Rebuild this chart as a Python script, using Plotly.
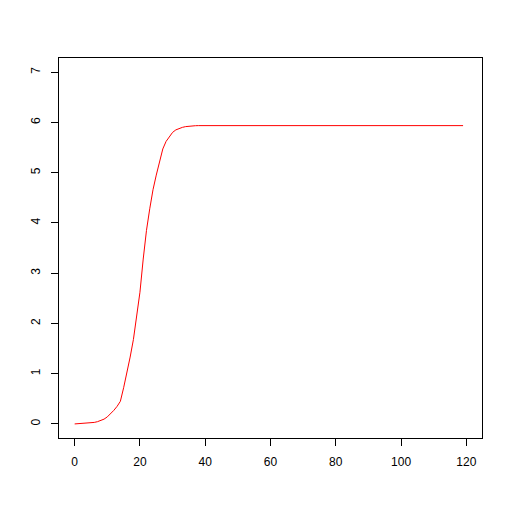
import plotly.graph_objects as go

x_vals = list(range(0, 41)) + [119]
y_vals = [0.0, 0.003, 0.006, 0.01, 0.015, 0.02, 0.03, 0.045, 0.065, 0.095,
          0.14, 0.2, 0.27, 0.35, 0.45, 0.72, 1.0, 1.33, 1.68, 2.12,
          2.62, 3.28, 3.85, 4.28, 4.66, 4.95, 5.22, 5.47, 5.62, 5.72,
          5.80, 5.85, 5.88, 5.90, 5.915, 5.925, 5.93, 5.933, 5.935, 5.935,
          5.935, 5.935]
x_ticks = [0, 20, 40, 60, 80, 100, 120]
y_ticks = [0, 1, 2, 3, 4, 5, 6, 7]

fig = go.Figure(go.Scatter(x=x_vals, y=y_vals, mode="lines",
                           line=dict(color="red", width=1), hoverinfo="skip"))

axis_common = dict(showgrid=False, zeroline=False, showline=True, mirror=True,
                   linecolor="black", linewidth=1, ticks="outside", ticklen=7,
                   tickcolor="black", tickwidth=1,
                   tickfont=dict(family="Liberation Sans, Arial", size=12, color="black"))

fig.update_layout(
    width=512, height=512,
    margin=dict(l=51, r=38, t=50, b=82),
    paper_bgcolor="white", plot_bgcolor="white",
    showlegend=False,
    xaxis=dict(range=[-4.8, 124.8], tickvals=x_ticks, ticklabelstandoff=6, **axis_common),
    yaxis=dict(range=[-0.28, 7.28], tickvals=y_ticks, tickangle=-90, ticklabelstandoff=6, **axis_common),
)

fig.write_html("out.html")
